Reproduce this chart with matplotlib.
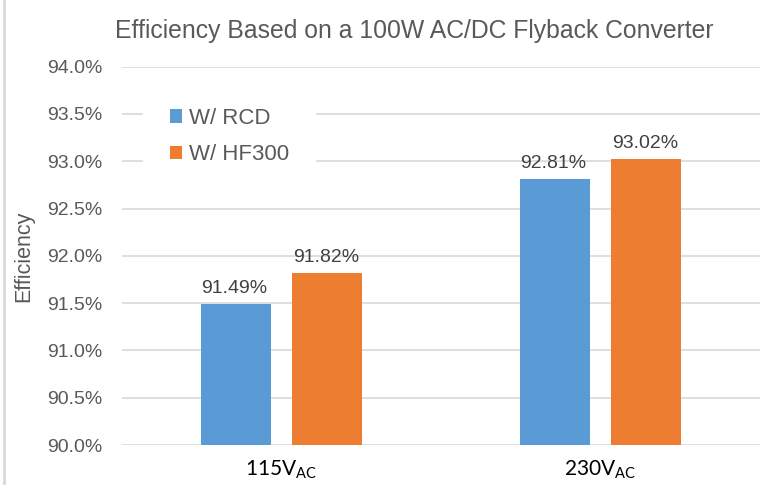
import matplotlib
matplotlib.use("Agg")
import matplotlib.pyplot as plt
import numpy as np
from matplotlib.lines import Line2D

categories = ['115V$_{\\mathrm{AC}}$', '230V$_{\\mathrm{AC}}$']
series_names = ['W/ RCD', 'W/ HF300']
rcd = [91.49, 92.81]
hf300 = [91.82, 93.02]
yticks = [90.0, 90.5, 91.0, 91.5, 92.0, 92.5, 93.0, 93.5, 94.0]
colors = ['#5B9BD5', '#ED7D31']

plt.rcParams['font.family'] = ['Liberation Sans', 'DejaVu Sans']
plt.rcParams['mathtext.fontset'] = 'custom'
plt.rcParams['mathtext.rm'] = 'Lato'
grey = '#595959'

W, H = 773, 490
fig = plt.figure(figsize=(W / 100, H / 100), dpi=100)
ax_l, ax_r, ax_t, ax_b = 122, 760, 66.7, 445
ax = fig.add_axes([ax_l / W, 1 - ax_b / H, (ax_r - ax_l) / W, (ax_b - ax_t) / H])

x = np.arange(len(categories))
w = 0.22
off = 0.143
for vals, name, c, o in [(rcd, series_names[0], colors[0], -off), (hf300, series_names[1], colors[1], off)]:
    bars = ax.bar(x + o, [v - 90 for v in vals], w, bottom=90, color=c, label=name, zorder=3)
    for b, v in zip(bars, vals):
        ax.annotate(f'{v:.2f}%', (b.get_x() + b.get_width() / 2, v), xytext=(-1, 5),
                    textcoords='offset points', ha='center', va='bottom', fontsize=14, color='#404040')

ax.set_ylim(90, 94)
ax.set_xlim(-0.5, 1.5)
ax.set_yticks(yticks)
ax.set_yticklabels([f'{t:.1f}%' for t in yticks], fontsize=14, color=grey)
ax.set_xticks(x)
ax.set_xticklabels(categories, fontsize=15, color='black', family='Lato')
ax.tick_params(axis='x', length=0, pad=10)
ax.tick_params(axis='y', length=0, pad=14)
ax.yaxis.grid(True, color='#D9D9D9', linewidth=1.2, zorder=0)
for s in ax.spines.values():
    s.set_visible(False)
ax.set_ylabel('Efficiency', fontsize=15.5, color=grey)
ax.yaxis.set_label_coords((34 - ax_l) / (ax_r - ax_l), 0.5)

leg = ax.legend(loc='upper left', bbox_to_anchor=(0.033, 0.962), frameon=True, fontsize=16,
                handlelength=0.55, handleheight=0.55, handletextpad=0.3, labelspacing=0.69,
                borderpad=1.2, labelcolor=grey, borderaxespad=0)
leg.get_frame().set_edgecolor('white')
leg.get_frame().set_facecolor('white')
leg.get_frame().set_alpha(1)
leg.get_frame().set_boxstyle('square', pad=0)

fig.text(414 / W, 1 - 31 / H, 'Efficiency Based on a 100W AC/DC Flyback Converter', ha='center', va='center',
         fontsize=17.8, color=grey)

fig.add_artist(Line2D([4 / W, 4 / W], [1 - 483 / H, 1], transform=fig.transFigure,
                      color='#D9D9D9', linewidth=2))

fig.savefig('out.png', dpi=100)
